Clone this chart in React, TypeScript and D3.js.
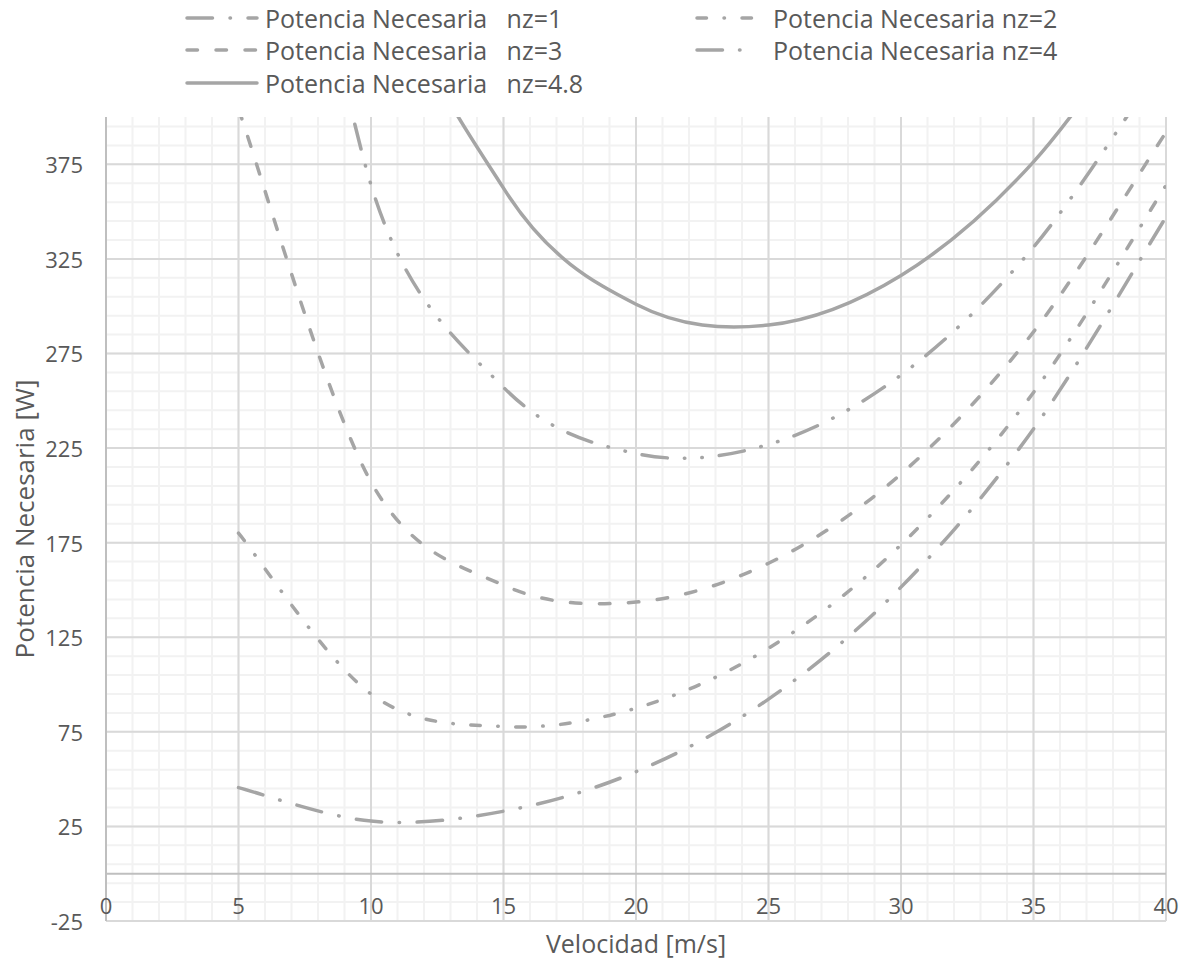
import React from "react";
import * as d3 from "d3";

// Data (Excel smoothed lines through these points)
const velocidad = [5, 10, 15, 20, 25, 30, 35, 40];
const potNz1 = [45.5, 27.8, 33.0, 53.9, 92.3, 151.5, 235.1, 347.1];
const potNz2 = [180.0, 95.0, 77.8, 87.5, 119.2, 173.9, 254.4, 363.9];
const potNz3 = [404.2, 207.1, 152.5, 143.6, 164.1, 211.3, 286.4, 391.9];
const potNz4 = [718.1, 364.1, 257.1, 222.1, 226.9, 263.6, 331.2, 431.1];
const potNz48 = [1033.8, 521.9, 362.4, 301.0, 290.0, 316.2, 376.3, 470.6];

const seriesLabels = [
  "Potencia Necesaria   nz=1",
  "Potencia Necesaria nz=2",
  "Potencia Necesaria   nz=3",
  "Potencia Necesaria nz=4",
  "Potencia Necesaria   nz=4.8",
];

const xTicks = [0, 5, 10, 15, 20, 25, 30, 35, 40];
const yTicks = [-25, 25, 75, 125, 175, 225, 275, 325, 375];

const xTitle = "Velocidad [m/s]";
const yTitle = "Potencia Necesaria [W]";

const W = 1183;
const H = 962;
const PL = 106;
const PR = 1166;
const PT = 117;
const PB = 921;

const LINE = "#A5A5A5";
const TEXT = "#595959";
const FONT = "'Open Sans', 'Noto Sans', sans-serif";
const SW = 3.5;

const dashes = [
  "25.5 17.5 0.5 17.5",
  "9.5 17.5 0.5 17.5",
  "10.5 18.5",
  "25.5 17 0.5 17 0.5 17",
  "none",
];

// Spreadsheet-style smoothing: Bezier with 1/6 tangent arms, clamped to half the segment
function excelCurve(context: any) {
  let pts: [number, number][] = [];
  return {
    areaStart() {},
    areaEnd() {},
    lineStart() {
      pts = [];
    },
    point(x: number, y: number) {
      pts.push([+x, +y]);
    },
    lineEnd() {
      const n = pts.length;
      if (!n) return;
      context.moveTo(pts[0][0], pts[0][1]);
      if (n === 1) return;
      const dist = (a: [number, number], b: [number, number]) =>
        Math.hypot(b[0] - a[0], b[1] - a[1]);
      for (let i = 0; i < n - 1; i++) {
        const p1 = pts[i];
        const p2 = pts[i + 1];
        const p0 = i === 0 ? p1 : pts[i - 1];
        const p3 = i + 2 < n ? pts[i + 2] : p2;
        const d12 = dist(p1, p2);
        const d02 = dist(p0, p2);
        const d13 = dist(p1, p3);
        let f1 = 1 / 6;
        let f2 = 1 / 6;
        if (d02 / 6 > d12 / 2 && d02 > 0) f1 = d12 / 2 / d02;
        if (d13 / 6 > d12 / 2 && d13 > 0) f2 = d12 / 2 / d13;
        const c1x = p1[0] + f1 * (p2[0] - p0[0]);
        const c1y = p1[1] + f1 * (p2[1] - p0[1]);
        const c2x = p2[0] - f2 * (p3[0] - p1[0]);
        const c2y = p2[1] - f2 * (p3[1] - p1[1]);
        context.bezierCurveTo(c1x, c1y, c2x, c2y, p2[0], p2[1]);
      }
    },
  };
}

export default function App() {
  const x = d3.scaleLinear().domain([0, 40]).range([PL, PR]);
  const y = d3.scaleLinear().domain([-25, 400]).range([PB, PT]);

  const series = [potNz1, potNz2, potNz3, potNz4, potNz48];

  const line = d3
    .line<[number, number]>()
    .x((d) => x(d[0]))
    .y((d) => y(d[1]))
    .curve(excelCurve as any);

  const minorY = d3.range(-25, 400, 10);
  const majorY = d3.range(-25, 400, 50);
  const minorX = d3.range(0, 41, 1);
  const majorX = d3.range(0, 41, 5);

  const legendPos = [
    { sx: 187, ex: 257, tx: 265, cy: 18 },
    { sx: 697, ex: 757, tx: 773, cy: 18 },
    { sx: 187, ex: 257, tx: 265, cy: 50 },
    { sx: 697, ex: 757, tx: 773, cy: 50 },
    { sx: 187, ex: 257, tx: 265, cy: 83 },
  ];

  return (
    <svg
      width={W}
      height={H}
      style={{ position: "absolute", left: 0, top: 0, background: "#fff" }}
      fontFamily={FONT}
    >
      <defs>
        <clipPath id="plotClip">
          <rect x={PL} y={PT} width={PR - PL} height={PB - PT} />
        </clipPath>
      </defs>
      {/* minor grid */}
      <g stroke="#F2F2F2" strokeWidth={2}>
        {minorY.map((v) => (
          <line key={"my" + v} x1={PL} x2={PR} y1={y(v)} y2={y(v)} />
        ))}
        {minorX.map((v) => (
          <line key={"mx" + v} x1={x(v)} x2={x(v)} y1={PT} y2={PB} />
        ))}
      </g>
      {/* major grid */}
      <g stroke="#D9D9D9" strokeWidth={2}>
        {majorY.map((v) => (
          <line key={"My" + v} x1={PL} x2={PR} y1={y(v)} y2={y(v)} />
        ))}
        {majorX.map((v) => (
          <line key={"Mx" + v} x1={x(v)} x2={x(v)} y1={PT} y2={PB} />
        ))}
      </g>
      {/* axes */}
      <g stroke="#BFBFBF" strokeWidth={2}>
        <line x1={x(0)} x2={x(0)} y1={PT} y2={PB} />
        <line x1={PL} x2={PR} y1={y(0)} y2={y(0)} />
      </g>
      {/* series */}
      <g clipPath="url(#plotClip)">
        {series.map((vals, i) => (
          <path
            key={i}
            d={line(velocidad.map((v, j) => [v, vals[j]] as [number, number])) || ""}
            fill="none"
            stroke={LINE}
            strokeWidth={SW}
            strokeLinecap="round"
            strokeDasharray={dashes[i]}
          />
        ))}
      </g>
      {/* y tick labels */}
      <g fill={TEXT} fontSize={22} textAnchor="end">
        {yTicks.map((t) => (
          <text key={t} x={83} y={y(t)} dominantBaseline="central">
            {t}
          </text>
        ))}
      </g>
      {/* x tick labels */}
      <g fill={TEXT} fontSize={22} textAnchor="middle">
        {xTicks.map((t) => (
          <text key={t} x={x(t)} y={905} dominantBaseline="central">
            {t}
          </text>
        ))}
      </g>
      {/* axis titles */}
      <text
        x={(PL + PR) / 2}
        y={943}
        fill={TEXT}
        fontSize={25}
        textAnchor="middle"
        dominantBaseline="central"
      >
        {xTitle}
      </text>
      <text
        transform={`translate(24, ${(PT + PB) / 2}) rotate(-90)`}
        fill={TEXT}
        fontSize={26}
        textAnchor="middle"
        dominantBaseline="central"
      >
        {yTitle}
      </text>
      {/* legend */}
      {legendPos.map((p, i) => (
        <g key={i}>
          <line
            x1={p.sx}
            x2={p.ex}
            y1={p.cy}
            y2={p.cy}
            stroke={LINE}
            strokeWidth={SW}
            strokeLinecap="round"
            strokeDasharray={dashes[i]}
          />
          <text
            x={p.tx}
            y={p.cy}
            fill={TEXT}
            fontSize={25}
            dominantBaseline="central"
            style={{ whiteSpace: "pre" }}
          >
            {seriesLabels[i]}
          </text>
        </g>
      ))}
    </svg>
  );
}
